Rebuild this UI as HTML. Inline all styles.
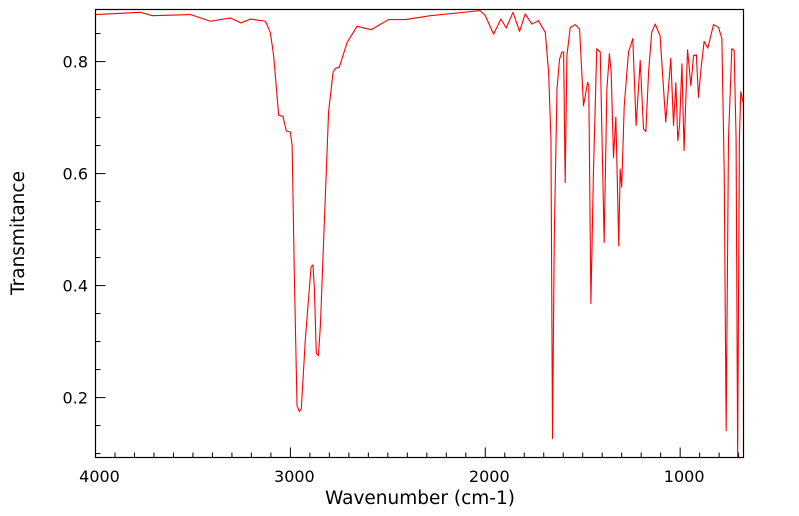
<!DOCTYPE html>
<html><head><meta charset="utf-8"><style>
html,body{margin:0;padding:0;background:#fff;}
svg{display:block;font-family:"DejaVu Sans","Liberation Sans",sans-serif;}
</style></head><body>
<svg id="chart" width="799" height="516">
<rect x="0" y="0" width="799" height="516" fill="#fff"/>
<g id="axes"></g>
<polyline id="line" fill="none" stroke="#ff0000" stroke-width="1.1" stroke-linejoin="round"/>
<rect x="95.5" y="9.5" width="648" height="448" fill="none" stroke="#000" stroke-width="1.2"/>
<text x="420" y="504" text-anchor="middle" font-size="18.5">Wavenumber (cm-1)</text>
<text transform="translate(24,233) rotate(-90)" text-anchor="middle" font-size="18.5">Transmitance</text>
</svg>
<script>
const wavenumbers=[4000,3769,3708,3513,3410,3308,3253,3205,3128,3103,3086,3060,3038,3021,3000,2991,2980,2966,2954,2944,2923,2894,2884,2877,2867,2856,2846,2829,2804,2781,2769,2749,2709,2658,2585,2496,2410,2282,2026,2000,1957,1920,1892,1858,1824,1795,1761,1727,1692,1675,1663,1655,1646,1632,1619,1607,1598,1590,1581,1564,1538,1516,1496,1475,1469,1458,1445,1428,1410,1390,1376,1363,1354,1342,1330,1315,1308,1300,1287,1265,1243,1226,1205,1188,1176,1162,1146,1128,1103,1074,1048,1034,1022,1012,1003,991,980,962,945,931,917,906,894,877,858,829,803,786,774,764,752,735,723,713,705,696,689,675];
const transmittance=[0.884,0.888,0.882,0.884,0.872,0.878,0.869,0.876,0.872,0.852,0.811,0.704,0.702,0.676,0.674,0.65,0.424,0.186,0.175,0.18,0.305,0.433,0.437,0.395,0.279,0.275,0.329,0.484,0.71,0.781,0.788,0.79,0.834,0.863,0.857,0.875,0.875,0.882,0.891,0.882,0.849,0.876,0.86,0.888,0.854,0.885,0.867,0.873,0.852,0.781,0.662,0.127,0.484,0.751,0.804,0.817,0.817,0.584,0.811,0.861,0.866,0.858,0.721,0.763,0.757,0.368,0.602,0.823,0.817,0.477,0.751,0.814,0.781,0.629,0.701,0.471,0.608,0.576,0.721,0.817,0.841,0.686,0.802,0.68,0.675,0.781,0.852,0.867,0.846,0.692,0.806,0.686,0.762,0.659,0.686,0.796,0.641,0.821,0.757,0.811,0.812,0.736,0.784,0.836,0.824,0.866,0.861,0.841,0.602,0.141,0.662,0.823,0.82,0.662,0.09,0.662,0.746,0.725];
const xTickLabels=[4000,3000,2000,1000];
const yTickLabels=[0.2,0.4,0.6,0.8];
const X0=95.5,X1=743.5,Y0=457.5,Y1=9.5;
const xMax=4000,xMin=675,yMin=0.093,yMax=0.893;
function sx(v){return X0+(xMax-v)/(xMax-xMin)*(X1-X0);}
function sy(v){return Y0-(v-yMin)/(yMax-yMin)*(Y0-Y1);}
const NS="http://www.w3.org/2000/svg";
const axes=document.getElementById('axes');
function mk(tag,attrs){const e=document.createElementNS(NS,tag);for(const k in attrs)e.setAttribute(k,attrs[k]);return e;}
const pts=wavenumbers.map((w,i)=>sx(w).toFixed(2)+","+Math.max(Y1,Math.min(Y0,sy(transmittance[i]))).toFixed(2)).join(" ");
document.getElementById('line').setAttribute('points',pts);
for(let w=4000;w>=xMin;w-=100){
  const major=(w%1000===0);
  const t=mk('line',{x1:sx(w),x2:sx(w),y1:Y0,y2:Y0-(major?10:5),stroke:'#000','stroke-width':1});
  
  
  axes.appendChild(t);
}
xTickLabels.forEach(v=>{
  const t=mk('text',{x:sx(v)+4,y:482,'text-anchor':'middle','font-size':16});
  t.textContent=String(v);
  
  
  axes.appendChild(t);
});
for(let k=2;k*0.05<=yMax;k++){
  const v=k*0.05;
  const major=(k%4===0);
  const t=mk('line',{x1:X0,x2:X0+(major?10:5),y1:sy(v),y2:sy(v),stroke:'#000','stroke-width':1});
  
  
  axes.appendChild(t);
}
yTickLabels.forEach(v=>{
  const t=mk('text',{x:88,y:sy(v)+6,'text-anchor':'end','font-size':16});
  t.textContent=v.toFixed(1);
  
  
  axes.appendChild(t);
});
</script>
</body></html>
